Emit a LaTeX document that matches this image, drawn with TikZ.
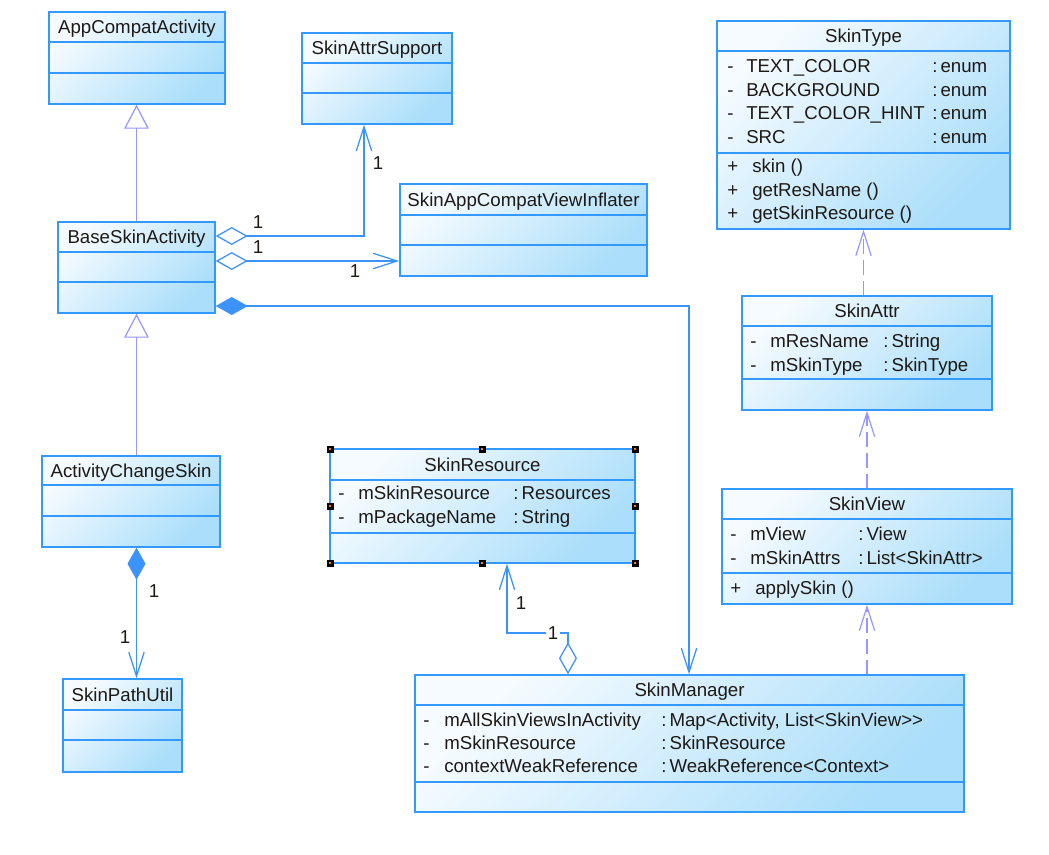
\documentclass[tikz,border=0pt]{standalone}
\usepackage{fontspec}
\setmainfont{Liberation Sans}
\usetikzlibrary{arrows.meta,fit}
\definecolor{umlborder}{RGB}{51,153,255}
\definecolor{umltop}{RGB}{246,251,255}
\definecolor{umlbottom}{RGB}{170,222,250}
\definecolor{umllink}{RGB}{60,148,250}
\definecolor{umlgen}{RGB}{150,150,255}
\definecolor{umltext}{RGB}{30,25,20}
\tikzset{
    x=0.75pt, y=-0.75pt,
    every node/.style={font=\fontsize{14}{17}\selectfont, text=umltext},
    % class boxes
    classbox/.style={draw=umlborder, line width=1.1pt, top color=umltop, bottom color=umlbottom, shading angle=45, inner sep=0pt},
    divider/.style={draw=umlborder, line width=1.1pt},
    title/.style={anchor=base, inner sep=0pt, yshift=-5.1pt},
    member/.style={anchor=base west, inner sep=0pt, yshift=-5.1pt},
    mult/.style={anchor=base, inner sep=1pt, yshift=-5.1pt},
    % connectors
    navtip/.style={-{Straight Barb[length=18pt, width=11.5pt]}},
    assoc/.style={draw=umllink, line width=0.95pt},
    aggregate/.style={assoc, {Diamond[fill=white, length=24pt, width=13.5pt]}-{Straight Barb[length=18pt, width=11.5pt]}},
    compose/.style={assoc, {Diamond[length=24pt, width=13.5pt]}-{Straight Barb[length=18pt, width=11.5pt]}},
    generalize/.style={draw=umlgen, line width=0.9pt, -{Triangle[fill=white, length=18pt, width=18.5pt]}},
    depend/.style={draw=umlgen, line width=0.9pt, dash pattern=on 11pt off 4.5pt, navtip}
}
\begin{document}
\begin{tikzpicture}
\fill[white] (0,0) rectangle (1049,855);
\useasboundingbox (0,0) rectangle (1049,855);

% Class boxes: name/title/left/top/right/bottom/divider1/divider2
\foreach \c/\t/\x/\y/\X/\Y/\a/\b in {
    appcompat/AppCompatActivity/49/12/225/104/42/73,
    attrsupport/SkinAttrSupport/302/33/452/124/63/93,
    inflater/SkinAppCompatViewInflater/400/184/647/276/215/245,
    baseskin/BaseSkinActivity/58/222/215/313/252/282,
    changeskin/ActivityChangeSkin/42/456/220/547/485/516,
    pathutil/SkinPathUtil/63/679/182/772/710/740,
    skintype/SkinType/717/21/1010/229/51/153,
    skinattr/SkinAttr/742/296/992/410/326/379,
    skinview/SkinView/722/489/1012/604/519/573,
    skinres/SkinResource/330/449/635/563/480/533,
    manager/SkinManager/415/675/964/812/705/782} {
    \node[classbox, fit={(\x,\y) (\X,\Y)}] (\c) {};
    \draw[divider] (\c.west |- 0,\a) -- (\c.east |- 0,\a);
    \draw[divider] (\c.west |- 0,\b) -- (\c.east |- 0,\b);
    \node[title] (\c-title) at ({(\x+\X)/2},{(\y+\a)/2}) {\t};
}

% SkinType
\foreach \n [count=\i from 0] in {TEXT\_COLOR, BACKGROUND, TEXT\_COLOR\_HINT, SRC} {
    \node[member] (skintype-v\i) at (727,66+23.6*\i) {-};
    \node[member] (skintype-a\i) at (746,66+23.6*\i) {\n};
    \node[member] (skintype-t\i) at (932,66+23.6*\i) {:\,enum};
}
\foreach \n [count=\i from 0] in {skin (), getResName (), getSkinResource ()} {
    \node[member] (skintype-p\i) at (727,166+23.5*\i) {+};
    \node[member] (skintype-m\i) at (752,166+23.5*\i) {\n};
}

% SkinAttr
\foreach \n/\t [count=\i from 0] in {mResName/String, mSkinType/SkinType} {
    \node[member] (skinattr-v\i) at (750,341+23.5*\i) {-};
    \node[member] (skinattr-a\i) at (770,341+23.5*\i) {\n};
    \node[member] (skinattr-t\i) at (883,341+23.5*\i) {:\,\t};
}

% SkinView
\foreach \n/\t [count=\i from 0] in {mView/View, mSkinAttrs/List<SkinAttr>} {
    \node[member] (skinview-v\i) at (730,534+24*\i) {-};
    \node[member] (skinview-a\i) at (750,534+24*\i) {\n};
    \node[member] (skinview-t\i) at (858,534+24*\i) {:\,\t};
}
\node[member] (skinview-p0) at (730,588) {+};
\node[member] (skinview-m0) at (755,588) {applySkin ()};

% SkinResource
\foreach \n/\t [count=\i from 0] in {mSkinResource/Resources, mPackageName/String} {
    \node[member] (skinres-v\i) at (338,493+24*\i) {-};
    \node[member] (skinres-a\i) at (358,493+24*\i) {\n};
    \node[member] (skinres-t\i) at (513,493+24*\i) {:\,\t};
}
% selection handles
\foreach \hx/\hy in {330/449, 482/449, 635/449, 330/506, 635/506, 330/563, 482/563, 635/563} {
    \fill[black] (\hx-3.5,\hy-3.5) rectangle (\hx+3.5,\hy+3.5);
    \fill[orange!80!brown] (\hx-1,\hy-1) rectangle (\hx+1,\hy+1);
}

% SkinManager
\foreach \n/\t [count=\i from 0] in {mAllSkinViewsInActivity/{Map<Activity, List<SkinView>{}>}, mSkinResource/SkinResource, contextWeakReference/WeakReference<Context>} {
    \node[member] (manager-v\i) at (423,720+23*\i) {-};
    \node[member] (manager-a\i) at (444,720+23*\i) {\n};
    \node[member] (manager-t\i) at (661,720+23*\i) {:\,\t};
}

% Inheritance
\draw[generalize] (baseskin.north) -- (baseskin.north |- appcompat.south);
\draw[generalize] (changeskin.north -| baseskin.south) -- (baseskin.south);

% Associations
\draw[aggregate] (baseskin.east |- 0,236) -| (attrsupport.south -| 364,0);
\draw[aggregate] (baseskin.east |- 0,261) -- (inflater.west |- 0,261);
\draw[compose] (baseskin.east |- 0,306) -| (manager.north -| 689,0);
\draw[compose] (changeskin.south -| baseskin.south) -- (pathutil.north -| baseskin.south);
\draw[aggregate] (manager.north -| 568,0) -- (568,633) -| (skinres.south -| 507,0);

% Dependencies
\draw[depend] (manager.north -| skinview.south) -- (skinview.south);
\draw[depend] (skinview.north) -- (skinattr.south);
\draw[depend] (skinattr.north -| skintype.south) -- (skintype.south);

% Multiplicities
\node[mult] (m-attrsupport) at (378,163) {1};
\node[mult] (m-base1) at (258,222) {1};
\node[mult] (m-base2) at (258,247) {1};
\node[mult] (m-inflater) at (355,271) {1};
\node[mult] (m-change) at (154,591) {1};
\node[mult] (m-pathutil) at (125,637) {1};
\node[mult] (m-skinres) at (521,603) {1};
\node[mult, fill=white] (m-manager) at (553,633) {1};
\end{tikzpicture}
\end{document}
